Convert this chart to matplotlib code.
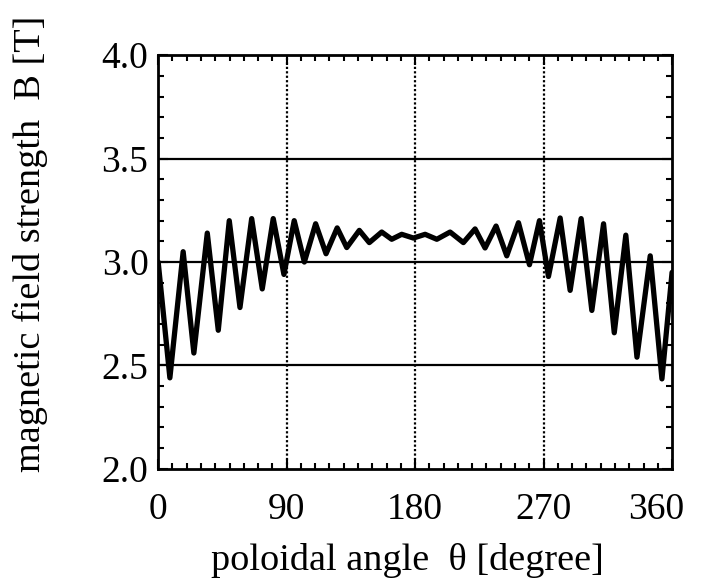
import numpy as np
import matplotlib
matplotlib.use("Agg")
import matplotlib.pyplot as plt
import matplotlib.transforms as mtransforms
from matplotlib.ticker import MultipleLocator

# extrema of the field strength curve
theta = [0, 8.2, 17.5, 25.0, 34.4, 42.1, 49.8, 57.3, 65.5, 72.9, 80.6, 88.1,
         95.3, 102.4, 110.3, 117.6, 125.4, 132.1, 140.9, 147.9, 156.6, 163.6,
         170.6, 178.8, 187.0, 195.2, 204.5, 213.8, 222.0, 229.0, 236.7, 244.2,
         252.4, 260.1, 267.1, 273.4, 281.6, 288.6, 296.3, 303.8, 312.0, 319.5,
         327.6, 335.4, 344.7, 352.9, 360]
B = [3.0, 2.44, 3.05, 2.56, 3.14, 2.67, 3.20, 2.78, 3.21, 2.87, 3.21, 2.94,
     3.20, 3.00, 3.185, 3.04, 3.165, 3.07, 3.153, 3.094, 3.145, 3.11,
     3.134, 3.116, 3.134, 3.11, 3.145, 3.094, 3.16, 3.068, 3.174, 3.03,
     3.19, 2.987, 3.20, 2.93, 3.213, 2.863, 3.21, 2.766, 3.185, 2.658,
     3.13, 2.54, 3.03, 2.435, 2.95]

xticks = [0, 90, 180, 270, 360]
yticks = [2.0, 2.5, 3.0, 3.5, 4.0]

plt.rcParams['font.family'] = ['Liberation Serif', 'DejaVu Serif']

fig = plt.figure(figsize=(7.03, 5.81), dpi=100)
ax = fig.add_axes([0.225, 0.193, 0.731, 0.712])

# grid: dotted verticals, solid horizontals
for v in xticks[1:-1]:
    ax.axvline(v, color='black', lw=1.6, ls=(0, (1, 1)), zorder=1)
for h in yticks[1:-1]:
    ax.axhline(h, color='black', lw=1.6, zorder=1)

ax.plot(theta, B, color='black', lw=3.8, solid_joinstyle='round',
        solid_capstyle='round', zorder=3)

ax.set_xlim(0, 360)
ax.set_ylim(2.0, 4.0)
ax.set_xticks(xticks)
ax.set_yticks(yticks)
ax.set_yticklabels([f"{t:.1f}" for t in yticks])
ax.xaxis.set_minor_locator(MultipleLocator(10))
ax.yaxis.set_minor_locator(MultipleLocator(0.1))
ax.tick_params(which='both', direction='in', top=True, right=True,
               width=1.5, labelsize=27)
ax.tick_params(which='major', length=7)
ax.tick_params(which='minor', length=4)
ax.tick_params(axis='x', which='major', pad=17)
ax.tick_params(axis='y', which='major', pad=7)
for s in ax.spines.values():
    s.set_linewidth(2)

# last label sits a bit inside, like the original
lab = ax.get_xticklabels()[-1]
lab.set_transform(lab.get_transform() +
                  mtransforms.ScaledTranslation(-0.16, 0, fig.dpi_scale_trans))

fig.text(0.58, 0.036, "poloidal angle  \u03b8 [degree]", fontsize=27.5,
         ha='center', va='center')
fig.text(0.043, 0.58, "magnetic field strength  B [T]", fontsize=27.5,
         ha='center', va='center', rotation=90)

fig.savefig("out.png", dpi=100)
